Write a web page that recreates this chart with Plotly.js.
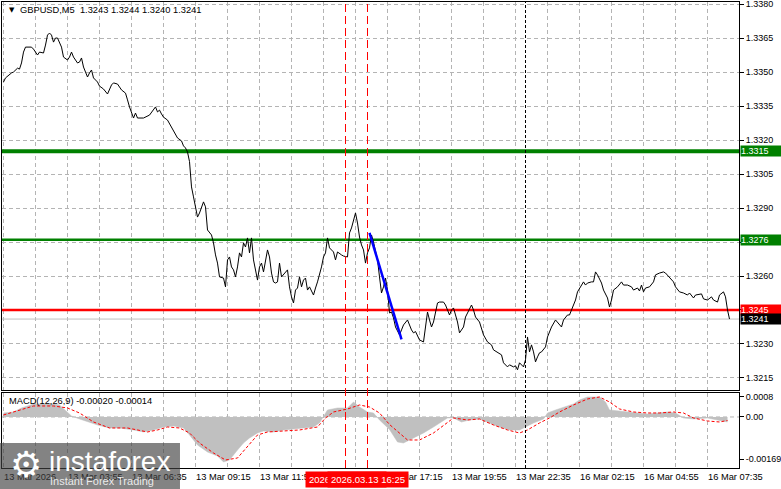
<!DOCTYPE html>
<html><head><meta charset="utf-8">
<script src="https://cdn.plot.ly/plotly-3.0.1.min.js"></script>
<style>html,body{margin:0;padding:0;background:#fff}#chart{width:781px;height:489px}</style>
</head><body><div id="chart"></div>
<script>
// ---- data (x = M5 bar index) ----
const priceBar = [0,1,4,5,7,8,9,10,11,14,15,17,18,20,21,22,23,24,25,26,27,29,30,32,33,34,35,37,38,39,40,42,43,44,45,47,48,50,52,54,55,57,59,61,62,63,65,66,67,70,73,75,76,77,78,79,80,82,84,85,87,89,90,91,92,93,94,95,97,98,100,101,102,104,105,106,107,108,110,111,112,113,114,115,116,117,118,119,120,121,122,123,124,125,126,127,128,129,130,131,132,133,134,135,136,137,138,139,141,142,143,144,145,146,147,148,149,150,151,152,153,155,156,157,159,160,161,162,163,165,166,167,169,170,172,173,174,175,176,177,178,179,180,181,182,183,184,185,186,187,188,189,190,191,192,193,194,195,196,198,199,200,202,204,205,206,208,210,211,212,213,214,215,217,218,220,221,223,224,225,226,227,228,230,231,233,234,235,236,238,239,240,242,244,245,247,249,250,252,253,255,256,257,258,260,261,262,263,264,265,266,267,268,269,271,272,274,276,277,279,280,282,283,284,286,287,288,290,291,292,294,295,296,297,299,300,302,303,304,305,307,309,310,312,314,315,317,318,319,320,321,323,325,326,328,330,331,333,335,336,338,340,342,343,345,346,349,350,352,354,355,357,358,360,361,362,363];
const priceClose = [1.33456,1.33474,1.33496,1.33500,1.33517,1.33513,1.33540,1.33588,1.33610,1.33610,1.33601,1.33575,1.33588,1.33584,1.33619,1.33663,1.33672,1.33663,1.33632,1.33650,1.33650,1.33610,1.33566,1.33553,1.33566,1.33588,1.33566,1.33540,1.33544,1.33562,1.33522,1.33478,1.33496,1.33509,1.33474,1.33456,1.33438,1.33425,1.33403,1.33443,1.33452,1.33447,1.33421,1.33407,1.33377,1.33346,1.33297,1.33319,1.33297,1.33297,1.33310,1.33332,1.33346,1.33324,1.33332,1.33315,1.33301,1.33288,1.33257,1.33244,1.33209,1.33196,1.33174,1.33165,1.33147,1.33105,1.32993,1.32949,1.32860,1.32878,1.32927,1.32905,1.32803,1.32781,1.32746,1.32693,1.32657,1.32596,1.32591,1.32552,1.32671,1.32684,1.32640,1.32627,1.32596,1.32640,1.32702,1.32684,1.32746,1.32728,1.32768,1.32702,1.32768,1.32671,1.32627,1.32582,1.32640,1.32657,1.32618,1.32671,1.32715,1.32684,1.32613,1.32574,1.32569,1.32574,1.32657,1.32596,1.32618,1.32627,1.32552,1.32508,1.32481,1.32538,1.32547,1.32596,1.32552,1.32582,1.32591,1.32538,1.32552,1.32516,1.32547,1.32574,1.32640,1.32684,1.32702,1.32768,1.32724,1.32706,1.32671,1.32706,1.32693,1.32688,1.32684,1.32790,1.32812,1.32847,1.32878,1.32834,1.32772,1.32737,1.32715,1.32657,1.32702,1.32724,1.32781,1.32750,1.32706,1.32671,1.32596,1.32525,1.32552,1.32591,1.32538,1.32437,1.32441,1.32415,1.32375,1.32340,1.32362,1.32384,1.32406,1.32362,1.32349,1.32355,1.32318,1.32309,1.32375,1.32441,1.32406,1.32375,1.32397,1.32481,1.32485,1.32485,1.32472,1.32428,1.32450,1.32459,1.32428,1.32397,1.32349,1.32375,1.32419,1.32450,1.32472,1.32450,1.32419,1.32397,1.32371,1.32340,1.32309,1.32296,1.32274,1.32261,1.32252,1.32217,1.32199,1.32208,1.32199,1.32204,1.32186,1.32217,1.32199,1.32230,1.32331,1.32265,1.32296,1.32265,1.32221,1.32243,1.32261,1.32265,1.32287,1.32331,1.32375,1.32406,1.32397,1.32375,1.32406,1.32428,1.32428,1.32450,1.32494,1.32530,1.32547,1.32574,1.32560,1.32569,1.32574,1.32574,1.32618,1.32605,1.32569,1.32538,1.32503,1.32463,1.32494,1.32538,1.32552,1.32574,1.32560,1.32560,1.32552,1.32538,1.32547,1.32534,1.32560,1.32530,1.32547,1.32552,1.32574,1.32605,1.32613,1.32618,1.32613,1.32591,1.32574,1.32552,1.32530,1.32525,1.32516,1.32525,1.32503,1.32516,1.32521,1.32499,1.32494,1.32508,1.32494,1.32485,1.32516,1.32530,1.32508,1.32450,1.32410];

const histBar = [0,5,9,12,15,20,25,28,32,34,38,42,47,53,58,65,70,75,80,85,90,93,97,102,107,110,113,117,120,123,127,130,135,140,145,150,155,158,160,162,167,172,175,178,182,185,188,193,197,200,205,210,215,219,222,225,229,233,238,243,248,253,258,261,265,270,272,276,280,285,288,292,298,301,303,308,315,322,327,332,336,340,345,352,357,362];
const histVal = [0.00016,0.0002,0.00036,0.00044,0.00052,0.00052,0.00052,0.00048,0.0002,0.00004,-0.00008,-0.0002,-0.00032,-0.00044,-0.00044,-0.00052,-0.0006,-0.00052,-0.0004,-0.00036,-0.00044,-0.00072,-0.00112,-0.0014,-0.00156,-0.0018,-0.00172,-0.00132,-0.00104,-0.00084,-0.00064,-0.00056,-0.0006,-0.00052,-0.00048,-0.00044,-0.0004,-0.00024,0,0.00028,0.00036,0.00036,0.0006,0.0004,0.0002,0.00016,-0.00012,-0.0005,-0.001,-0.00104,-0.00084,-0.00064,-0.0004,-0.0002,-0.00004,-0.00004,-0.0002,-0.00012,-0.00008,-0.00024,-0.0004,-0.00052,-0.00052,-0.0004,-0.00024,-0.00008,0.00016,0.00028,0.0004,0.00052,0.00068,0.0008,0.0008,0.0006,0.00028,0.00024,0.00016,0.00012,0.00016,0.0002,0.00016,-0.00004,-0.00008,-0.00004,-0.00012,-0.0002];

const sigBar = [0,9,15,25,32,38,45,53,62,72,77,82,88,93,98,105,111,117,122,127,132,140,148,157,161,165,172,178,183,188,193,202,208,215,222,225,232,238,245,252,258,262,268,273,278,285,292,298,303,308,315,322,328,335,340,345,352,358,362];
const sigVal = [0.00008,0.00028,0.00044,0.00044,0.00036,0.00016,-0.0002,-0.00044,-0.00044,-0.0006,-0.00052,-0.0004,-0.00044,-0.00064,-0.00104,-0.00144,-0.00172,-0.00164,-0.0012,-0.00072,-0.0006,-0.00056,-0.00052,-0.0004,-0.00004,0.0002,0.00032,0.00048,0.0004,0.00016,-0.0003,-0.00092,-0.00092,-0.00064,-0.0002,-0.00004,-0.00012,-0.00008,-0.00032,-0.00052,-0.00064,-0.00052,-0.00024,-0.00004,0.0002,0.00048,0.00072,0.0008,0.0006,0.00032,0.0002,0.00016,0.00016,0.0002,0.00016,-0.00004,-0.00016,-0.0002,-0.00014];

const greenLevels = [1.3315, 1.3276];
const redLevel = 1.3245;
const lastPrice = 1.3241;
const trendBar = [183, 199];
const trendPrice = [1.3279, 1.3232];
const markerBars = [171, 182];
const markerLabels = ["2026.03.13 15:30", "2026.03.13 16:25"];
const separatorBar = 261;

const timeBars = [0,32,64,96,128,160,192,224,256,288,320,352];
const timeLabels = ["13 Mar 2026","13 Mar 03:55","13 Mar 06:35","13 Mar 09:15","13 Mar 11:55","13 Mar 14:35","13 Mar 17:15","13 Mar 19:55","13 Mar 22:35","16 Mar 02:15","16 Mar 04:55","16 Mar 07:35"];
const priceTicks = [1.3215,1.3230,1.3245,1.3260,1.3275,1.3290,1.3305,1.3320,1.3335,1.3350,1.3365,1.3380];
const hiddenPriceTicks = [1.3245, 1.3275]; // covered by level boxes in the terminal
const macdTicks = [0.0008, 0, -0.00169];
const macdTickText = ["0.0008", "0.00", "-0.00169"];
const titleText = "GBPUSD,M5\u00a0\u00a01.3243 1.3244 1.3240 1.3241";
const macdText = "MACD(12,26,9) -0.00020 -0.00014";

// ---- build ----
const FONT = "Liberation Sans, Arial, sans-serif";
const XR = [-0.75, 367.75];
const gridVals = [], gridText = [];
timeBars.forEach((b, i) => { gridVals.push(b); gridText.push(timeLabels[i]); gridVals.push(b + 16); gridText.push(""); });

const traces = [
  {x: priceBar, y: priceClose, xaxis: "x2", yaxis: "y", type: "scatter", mode: "lines",
   line: {color: "#000", width: 1}, hoverinfo: "skip"},
  {x: trendBar, y: trendPrice, xaxis: "x2", yaxis: "y", type: "scatter", mode: "lines",
   line: {color: "#0000ff", width: 2.5}, hoverinfo: "skip"},
  {x: histBar, y: histVal, xaxis: "x", yaxis: "y2", type: "scatter", mode: "lines",
   fill: "tozeroy", fillcolor: "#c0c0c0", line: {color: "#c0c0c0", width: 0.5}, hoverinfo: "skip"},
  {x: sigBar, y: sigVal, xaxis: "x", yaxis: "y2", type: "scatter", mode: "lines",
   line: {color: "#ff0000", width: 1, dash: "3px,2px"}, hoverinfo: "skip"}
];

const shapes = [];
shapes.push({type: "line", xref: "x2", yref: "y", x0: XR[0], x1: XR[1], y0: lastPrice, y1: lastPrice, line: {color: "#c0c0c0", width: 1}, layer: "between"});
shapes.push({type: "line", xref: "x2", yref: "y", x0: XR[0], x1: XR[1], y0: greenLevels[0], y1: greenLevels[0], line: {color: "#008000", width: 4}, layer: "between"});
shapes.push({type: "line", xref: "x2", yref: "y", x0: XR[0], x1: XR[1], y0: greenLevels[1], y1: greenLevels[1], line: {color: "#008000", width: 2.5}, layer: "between"});
shapes.push({type: "line", xref: "x2", yref: "y", x0: XR[0], x1: XR[1], y0: redLevel, y1: redLevel, line: {color: "#ff0000", width: 2.5}, layer: "between"});
markerBars.forEach(b => shapes.push({type: "line", xref: "x", yref: "paper", x0: b, x1: b, y0: 0, y1: 1, line: {color: "#ff0000", width: 1, dash: "8px,4px"}}));
shapes.push({type: "line", xref: "x", yref: "paper", x0: separatorBar, x1: separatorBar, y0: 0, y1: 1, line: {color: "#000", width: 1, dash: "3px,2px"}});
shapes.push({type: "line", xref: "x", yref: "y2", x0: XR[0], x1: XR[1], y0: 0, y1: 0, line: {color: "#b4b4b4", width: 1, dash: "4px,3px"}, layer: "between"});
// watermark box
shapes.push({type: "rect", xref: "paper", yref: "paper", x0: -0.0028, x1: 0.2415, y0: -0.046, y1: 0.0536, line: {width: 0}, fillcolor: "rgba(64,64,64,0.65)", layer: "above"});

const boxAnn = (p, bg) => ({xref: "paper", yref: "y", x: 1, y: p, xanchor: "left", yanchor: "middle", xshift: 1,
  text: p.toFixed(4), showarrow: false, bgcolor: bg, font: {family: FONT, size: 9, color: "#fff"},
  width: 40, height: 10, align: "left", borderpad: 0});

const annotations = [
  {xref: "paper", yref: "paper", x: 0.0065, y: 0.9825, xanchor: "left", yanchor: "middle", text: "\u25BC", showarrow: false, font: {family: "DejaVu Sans", size: 7, color: "#000"}},
  {xref: "paper", yref: "paper", x: 0.0217, y: 0.983, xanchor: "left", yanchor: "middle", text: titleText, showarrow: false, font: {family: FONT, size: 9.3, color: "#000"}},
  {xref: "paper", yref: "paper", x: 0.0068, y: 0.1438, xanchor: "left", yanchor: "middle", text: macdText, showarrow: false, font: {family: FONT, size: 9.3, color: "#000"}},
  boxAnn(greenLevels[0], "#008000"),
  boxAnn(greenLevels[1], "#008000"),
  boxAnn(redLevel, "#ff0000"),
  boxAnn(lastPrice, "#000000"),
  ...markerBars.map((b, i) => ({xref: "x", yref: "paper", x: b, y: 0, yanchor: "top", yshift: -3, xanchor: "center",
    text: markerLabels[i], showarrow: false, bgcolor: "#ff0000", font: {family: FONT, size: 9.5, color: "#fff"},
    width: 80, height: 15, borderpad: 0})),
  // watermark text
  {xref: "paper", yref: "paper", x: 0.0075, y: 0.0075, xanchor: "left", yanchor: "middle", text: "\u2699", showarrow: false, font: {family: "DejaVu Sans", size: 36, color: "#ffffff"}},
  {xref: "paper", yref: "paper", x: 0.0610, y: 0.015, xanchor: "left", yanchor: "middle", text: "instaforex", showarrow: false, font: {family: FONT, size: 28, color: "#ffffff"}},
  {xref: "paper", yref: "paper", x: 0.0625, y: -0.0285, xanchor: "left", yanchor: "middle", text: "Instant Forex Trading", showarrow: false, font: {family: FONT, size: 11, color: "rgba(255,255,255,0.85)"}}
];

const gridCommon = {showgrid: true, gridcolor: "#b4b4b4", griddash: "4px,3px", gridwidth: 1, zeroline: false,
  showline: true, linecolor: "#000", linewidth: 1, mirror: true};

const layout = {
  width: 781, height: 489,
  margin: {l: 2, r: 42, t: 2, b: 21},
  paper_bgcolor: "#fff", plot_bgcolor: "#fff",
  showlegend: false,
  font: {family: FONT, size: 9.3, color: "#000"},
  xaxis: Object.assign({}, gridCommon, {domain: [0, 1], anchor: "y2", range: XR,
    tickmode: "array", tickvals: gridVals, ticktext: gridText, ticks: "", ticklabelposition: "outside right",
    ticklabeloverflow: "allow", tickfont: {family: FONT, size: 9.3, color: "#000"}}),
  xaxis2: Object.assign({}, gridCommon, {domain: [0, 1], anchor: "y", matches: "x", range: XR,
    tickmode: "array", tickvals: gridVals, showticklabels: false, ticks: ""}),
  yaxis: Object.assign({}, gridCommon, {domain: [0.1674, 1], anchor: "x2", side: "right", range: [1.32097, 1.33809],
    tickmode: "array", tickvals: priceTicks,
    ticktext: priceTicks.map(v => hiddenPriceTicks.includes(v) ? "" : v.toFixed(4)),
    ticklabeloverflow: "allow",
    ticks: "outside", ticklen: 4, tickcolor: "#000", tickfont: {family: FONT, size: 9, color: "#000"}}),
  yaxis2: Object.assign({}, gridCommon, {showgrid: false, domain: [0, 0.161], anchor: "x", side: "right", range: [-0.00204, 0.00096],
    tickmode: "array", tickvals: macdTicks, ticktext: macdTickText, ticklabeloverflow: "allow",
    ticks: "outside", ticklen: 4, tickcolor: "#000", tickfont: {family: FONT, size: 9, color: "#000"}}),
  shapes: shapes,
  annotations: annotations
};

Plotly.newPlot("chart", traces, layout, {staticPlot: true, displayModeBar: false});
</script></body></html>
